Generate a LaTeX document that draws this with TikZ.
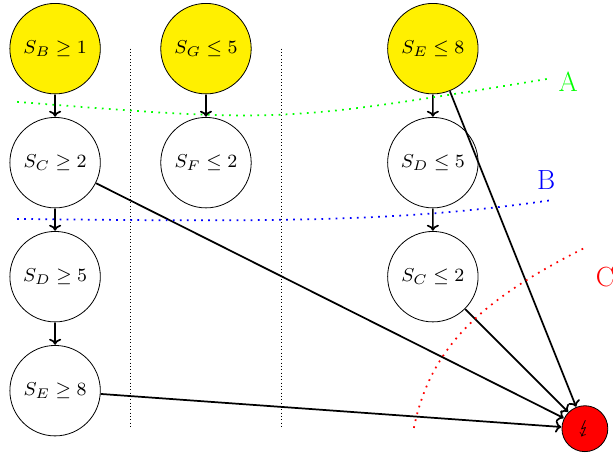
\documentclass[tikz,border=0pt]{standalone}
\usepackage{amsmath, amssymb, stmaryrd}
\usetikzlibrary{arrows.meta}
\definecolor{goalyellow}{RGB}{255,240,0}
\begin{document}
\begin{tikzpicture}[>={Computer Modern Rightarrow[width=9pt,length=4.5pt]},
    state/.style={circle,draw,line width=0.6pt,minimum size=1.36cm,inner sep=0pt,font=\footnotesize,scale=1.75},
    goal/.style={state,fill=goalyellow},
    bad/.style={circle,draw,line width=0.6pt,fill=red,minimum size=0.69cm,inner sep=0pt,font=\footnotesize,scale=1.75},
    edge/.style={->,line width=1.3pt},
    cut/.style={loosely dotted,line width=1.3pt},
    sep/.style={dotted,line width=0.5pt}]
  \useasboundingbox (0,0) rectangle (16.13,11.97);
  % left column
  \node[goal] (bl) at (1.45,10.69) {$S_B \geq 1$};
  \node[state] (cl) at (1.45,7.69) {$S_C \geq 2$};
  \node[state] (dl) at (1.45,4.69) {$S_D \geq 5$};
  \node[state] (el) at (1.45,1.69) {$S_E \geq 8$};
  % middle column
  \node[goal] (gm) at (5.42,10.69) {$S_G \leq 5$};
  \node[state] (fm) at (5.42,7.69) {$S_F \leq 2$};
  % right column
  \node[goal] (er) at (11.39,10.69) {$S_E \leq 8$};
  \node[state] (dr) at (11.39,7.69) {$S_D \leq 5$};
  \node[state] (cr) at (11.39,4.69) {$S_C \leq 2$};
  \node[bad] (bot) at (15.39,0.69) {$\lightning$};
  % separators
  \coordinate (s1a) at (3.43,10.69);
  \coordinate (s1b) at (3.43,0.69);
  \coordinate (s2a) at (7.41,10.69);
  \coordinate (s2b) at (7.41,0.69);
  \draw[sep] (s1a) -- (s1b);
  \draw[sep] (s2a) -- (s2b);
  % arrows
  \draw[edge] (bl) -- (cl);
  \draw[edge] (cl) -- (dl);
  \draw[edge] (dl) -- (el);
  \draw[edge] (gm) -- (fm);
  \draw[edge] (er) -- (dr);
  \draw[edge] (dr) -- (cr);
  \draw[edge] (er) -- (bot);
  \draw[edge] (cr) -- (bot);
  \draw[edge] (cl) -- (bot);
  \draw[edge] (el) -- (bot);
  % cuts
  \draw[cut,green] (0.45,9.29) .. controls (7.37,8.74) .. (14.44,9.9);
  \draw[cut,blue] (0.45,6.21) .. controls (7.37,6.13) and (10.53,6.13) .. (14.49,6.7);
  \draw[cut,red] (10.89,0.71) .. controls (11.32,2.82) and (12.63,4.08) .. (15.45,5.48);
  \node[green,font=\huge] (la) at (14.95,9.82) {A};
  \node[blue,font=\huge] (lb) at (14.37,7.24) {B};
  \node[red,font=\huge] (lc) at (15.92,4.68) {C};
\end{tikzpicture}
\end{document}
